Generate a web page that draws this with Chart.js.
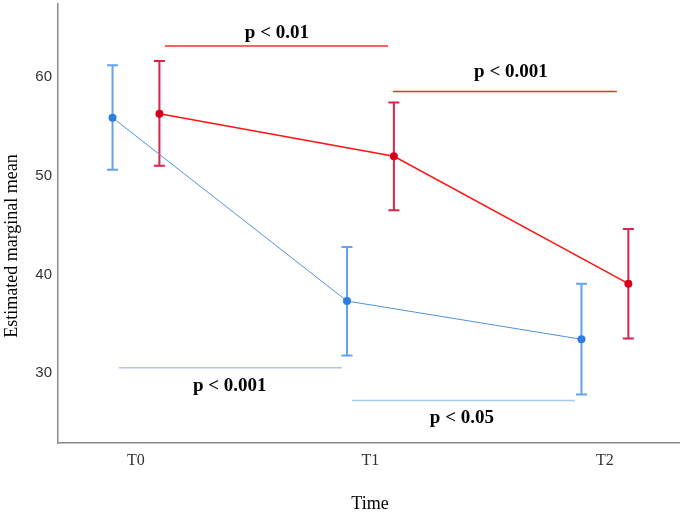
<!DOCTYPE html>
<html>
<head>
<meta charset="utf-8">
<script src="https://cdn.jsdelivr.net/npm/chart.js@4.4.1/dist/chart.umd.min.js"></script>
<style>
  body { margin: 0; background: #fff; }
  #wrap { width: 683px; height: 514px; position: relative; }
</style>
</head>
<body>
<div id="wrap"><canvas id="grafico"></canvas></div>
<script>
// categorias y valores
const categorias = ['T0', 'T1', 'T2'];
const yTicks = [30, 40, 50, 60];

const azulMedia = [55.86, 37.3, 33.43];
const azulBajo = [50.6, 31.8, 27.85];
const azulAlto = [61.16, 42.76, 39.06];

const rojoMedia = [56.26, 51.95, 39.06];
const rojoBajo = [51.0, 46.5, 33.5];
const rojoAlto = [61.6, 57.4, 44.6];

// lineas de significancia (coordenadas de datos)
const sigTexto = ['p < 0.01', 'p < 0.001', 'p < 0.001', 'p < 0.05'];
const sigDesde = [0.123, 1.096, -0.073, 0.921];
const sigHasta = [1.075, 2.051, 0.878, 1.872];
const sigNivel = [63.13, 58.5, 30.54, 27.24];
const sigTextoX = [0.601, 1.599, 0.400, 1.390];
const sigTextoY = [64.44, 60.45, 28.7, 25.5];
const sigGrupo = ['rojo', 'rojo', 'azul', 'azul'];

const desplazamiento = 0.1;

const colores = {
  azulLinea: '#4f93dc', azulPunto: '#2c7ee3', azulBarra: '#64a3ec', azulSig: '#a9c9ee',
  rojoLinea: '#ff1414', rojoPunto: '#d4001e', rojoBarra: '#d8244d', rojoSig: '#ff2a2a'
};

function puntos(medias, dx) {
  return medias.map((v, i) => ({ x: i + dx, y: v }));
}

let datasets = [
  {
    label: 'azul', data: puntos(azulMedia, -desplazamiento),
    borderColor: colores.azulLinea, borderWidth: 1,
    pointRadius: 4, pointBackgroundColor: colores.azulPunto, pointBorderWidth: 0
  },
  {
    label: 'rojo', data: puntos(rojoMedia, desplazamiento),
    borderColor: colores.rojoLinea, borderWidth: 1.5,
    pointRadius: 4, pointBackgroundColor: colores.rojoPunto, pointBorderWidth: 0
  }
];

sigTexto.forEach((t, i) => {
  datasets.push({
    label: 'sig' + i,
    data: [{ x: sigDesde[i], y: sigNivel[i] }, { x: sigHasta[i], y: sigNivel[i] }],
    borderColor: sigGrupo[i] == 'rojo' ? colores.rojoSig : colores.azulSig,
    borderWidth: 1.5, pointRadius: 0
  });
});

// barras de error
const barrasError = {
  id: 'barrasError',
  beforeDatasetsDraw(chart) {
    const ctx = chart.ctx;
    const xs = chart.scales.x, ys = chart.scales.y;
    const series = [
      [azulBajo, azulAlto, -desplazamiento, colores.azulBarra],
      [rojoBajo, rojoAlto, desplazamiento, colores.rojoBarra]
    ];
    ctx.save();
    ctx.lineWidth = 2;
    series.forEach(s => {
      ctx.strokeStyle = s[3];
      for (let i = 0; i < categorias.length; i++) {
        const x = xs.getPixelForValue(i + s[2]);
        const y1 = ys.getPixelForValue(s[0][i]);
        const y2 = ys.getPixelForValue(s[1][i]);
        ctx.beginPath();
        ctx.moveTo(x, y1); ctx.lineTo(x, y2);
        ctx.moveTo(x - 5.5, y1); ctx.lineTo(x + 5.5, y1);
        ctx.moveTo(x - 5.5, y2); ctx.lineTo(x + 5.5, y2);
        ctx.stroke();
      }
    });
    ctx.restore();
  }
};

// textos p y titulos de ejes
const textos = {
  id: 'textos',
  afterDraw(chart) {
    const ctx = chart.ctx;
    const xs = chart.scales.x, ys = chart.scales.y;
    ctx.save();
    ctx.fillStyle = '#000';
    ctx.textAlign = 'center';
    ctx.textBaseline = 'middle';
    ctx.font = 'bold 19px "Liberation Serif"';
    sigTexto.forEach((t, i) => {
      ctx.fillText(t, xs.getPixelForValue(sigTextoX[i]), ys.getPixelForValue(sigTextoY[i]));
    });
    ctx.font = '18px "Liberation Serif"';
    ctx.fillText('Time', 370, 504);
    ctx.translate(12, 246);
    ctx.rotate(-Math.PI / 2);
    ctx.fillText('Estimated marginal mean', 0, 0);
    ctx.restore();
  }
};

new Chart(document.getElementById('grafico'), {
  type: 'line',
  data: { datasets: datasets },
  options: {
    responsive: true,
    maintainAspectRatio: false,
    animation: false,
    layout: { padding: { top: 3, right: 0, left: 0, bottom: 0 } },
    plugins: { legend: { display: false }, tooltip: { enabled: false } },
    scales: {
      x: {
        type: 'linear', min: -0.3326, max: 2.316,
        grid: { display: false, drawTicks: false },
        border: { display: true, color: '#8a8a8a', width: 1.5 },
        afterBuildTicks: s => { s.ticks = categorias.map((c, i) => ({ value: i })); },
        afterFit: s => { s.height = 71; s.paddingLeft = 0; s.paddingRight = 0; },
        ticks: {
          padding: 8, color: '#333',
          font: { family: 'Liberation Serif', size: 16 },
          callback: v => categorias[v]
        }
      },
      y: {
        min: 22.93, max: 67.37,
        grid: { display: false, drawTicks: false },
        border: { display: true, color: '#8a8a8a', width: 1.5 },
        afterBuildTicks: s => { s.ticks = yTicks.map(v => ({ value: v })); },
        afterFit: s => { s.width = 58; s.paddingTop = 0; s.paddingBottom = 0; },
        ticks: {
          padding: 6, color: '#333',
          font: { family: 'Liberation Sans', size: 15 }
        }
      }
    }
  },
  plugins: [barrasError, textos]
});
</script>
</body>
</html>
